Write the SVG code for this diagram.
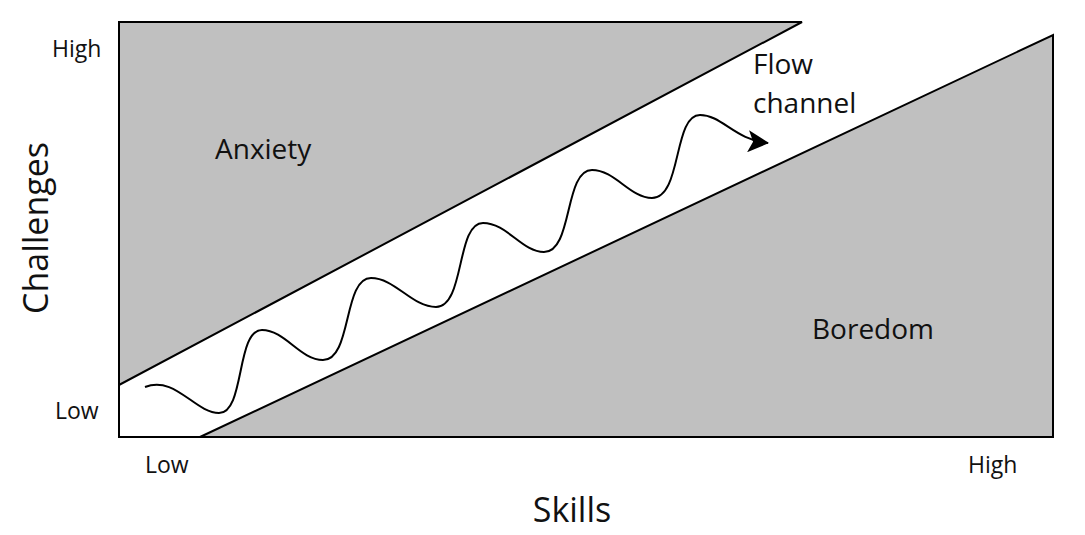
<svg xmlns="http://www.w3.org/2000/svg" width="1085" height="535" viewBox="0 0 1085 535">
<style>
.z{fill:#c0c0c0;stroke:#000;stroke-width:2;stroke-linejoin:miter}
text{font-family:"Open Sans","Liberation Sans",sans-serif;fill:#111}
.s{font-size:23px}.m{font-size:28px}.l{font-size:34px}
</style>
<defs><marker id="ah" markerWidth="22" markerHeight="22" refX="20" refY="11" orient="auto" markerUnits="userSpaceOnUse"><path d="M0,0 L21,11 L0,22 L5,11Z" fill="#000"/></marker></defs>
<rect width="1085" height="535" fill="#fff"/>
<g id="anxiety"><polygon class="z" points="119,22 802,22 119,385"/><text class="m" x="215" y="159">Anxiety</text></g>
<g id="boredom"><polygon class="z" points="200,437 1053,35 1053,437"/><text class="m" x="812" y="339">Boredom</text></g>
<g id="frame"><polyline points="119,385 119,437 200,437" fill="none" stroke="#000" stroke-width="2"/></g>
<g id="flow"><text class="m" x="753" y="74">Flow</text><text class="m" x="753" y="113">channel</text></g>
<g id="connectors">
<path fill="none" stroke="#000" stroke-width="2" marker-end="url(#ah)" d="M145,387 C175,375 195,413 219,413 C245,413 236,330 262,330 C285,330 300,360 323,360 C352,360 343,278 371,278 C395,278 412,307 436,307 C465,307 456,223 483,223 C507,223 522,252 544,252 C573,252 564,170 592,170 C615,170 630,198 652,198 C682,198 673,115 700,115 C722,115 735,140 768,143"/>
</g>
<g id="labels">
<text class="s" x="52" y="57">High</text>
<text class="s" x="55" y="419">Low</text>
<text class="s" x="145" y="473">Low</text>
<text class="s" x="968" y="473">High</text>
<text class="l" x="572" y="522" text-anchor="middle">Skills</text>
<text class="l" transform="translate(48,228) rotate(-90)" text-anchor="middle">Challenges</text>
</g>
</svg>
